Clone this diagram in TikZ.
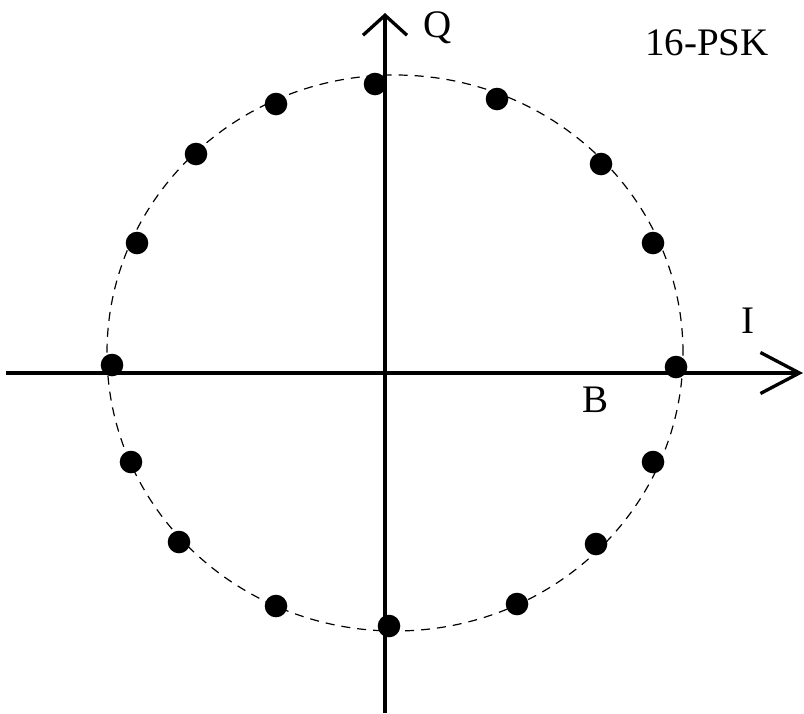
\documentclass[tikz,border=0pt]{standalone}
\usepackage{fontspec}
\setmainfont{Liberation Serif}
\usepackage{tikz}
\usetikzlibrary{arrows.meta}

\begin{document}
\begin{tikzpicture}[
x=1pt, y=-1pt,
axis/.style={line width=3.3pt},
uparrow/.style={-{Straight Barb[length=20pt, width=44pt]}},
rightarrow/.style={-{Straight Barb[length=39pt, width=41pt]}},
ring/.style={line width=1.2pt, dash pattern=on 9pt off 7pt},
symbol/.style={circle, fill=black, inner sep=0pt, minimum size=22.6pt},
label/.style={anchor=base, inner sep=0pt, font=\fontsize{39}{46}\selectfont}
]
\useasboundingbox (0,0) rectangle (804,713);

\draw[ring] (395,353) ellipse [x radius=288pt, y radius=278pt];

\coordinate (ibeg) at (6,373);
\coordinate (iend) at (803,373);
\coordinate (qbeg) at (385,713);
\coordinate (qend) at (385,13);
\draw[axis, rightarrow] (ibeg) -- (iend);
\draw[axis, uparrow] (qbeg) -- (qend);

\node[symbol] (s0) at (676,367) {};
\node[symbol] (s1) at (653,243) {};
\node[symbol] (s2) at (601,164) {};
\node[symbol] (s3) at (497,99) {};
\node[symbol] (s4) at (375,84) {};
\node[symbol] (s5) at (276,104) {};
\node[symbol] (s6) at (196,154) {};
\node[symbol] (s7) at (137,243) {};
\node[symbol] (s8) at (112,365) {};
\node[symbol] (s9) at (131,462) {};
\node[symbol] (s10) at (179,542) {};
\node[symbol] (s11) at (276,606) {};
\node[symbol] (s12) at (389,626) {};
\node[symbol] (s13) at (517,604) {};
\node[symbol] (s14) at (596,544) {};
\node[symbol] (s15) at (653,462) {};

\node[label] (qlabel) at (438,37) {Q};
\node[label] (ilabel) at (748,333) {I};
\node[label] (blabel) at (596,412) {B};
\node[label] (title) at (707,55) {16-PSK};
\end{tikzpicture}
\end{document}
